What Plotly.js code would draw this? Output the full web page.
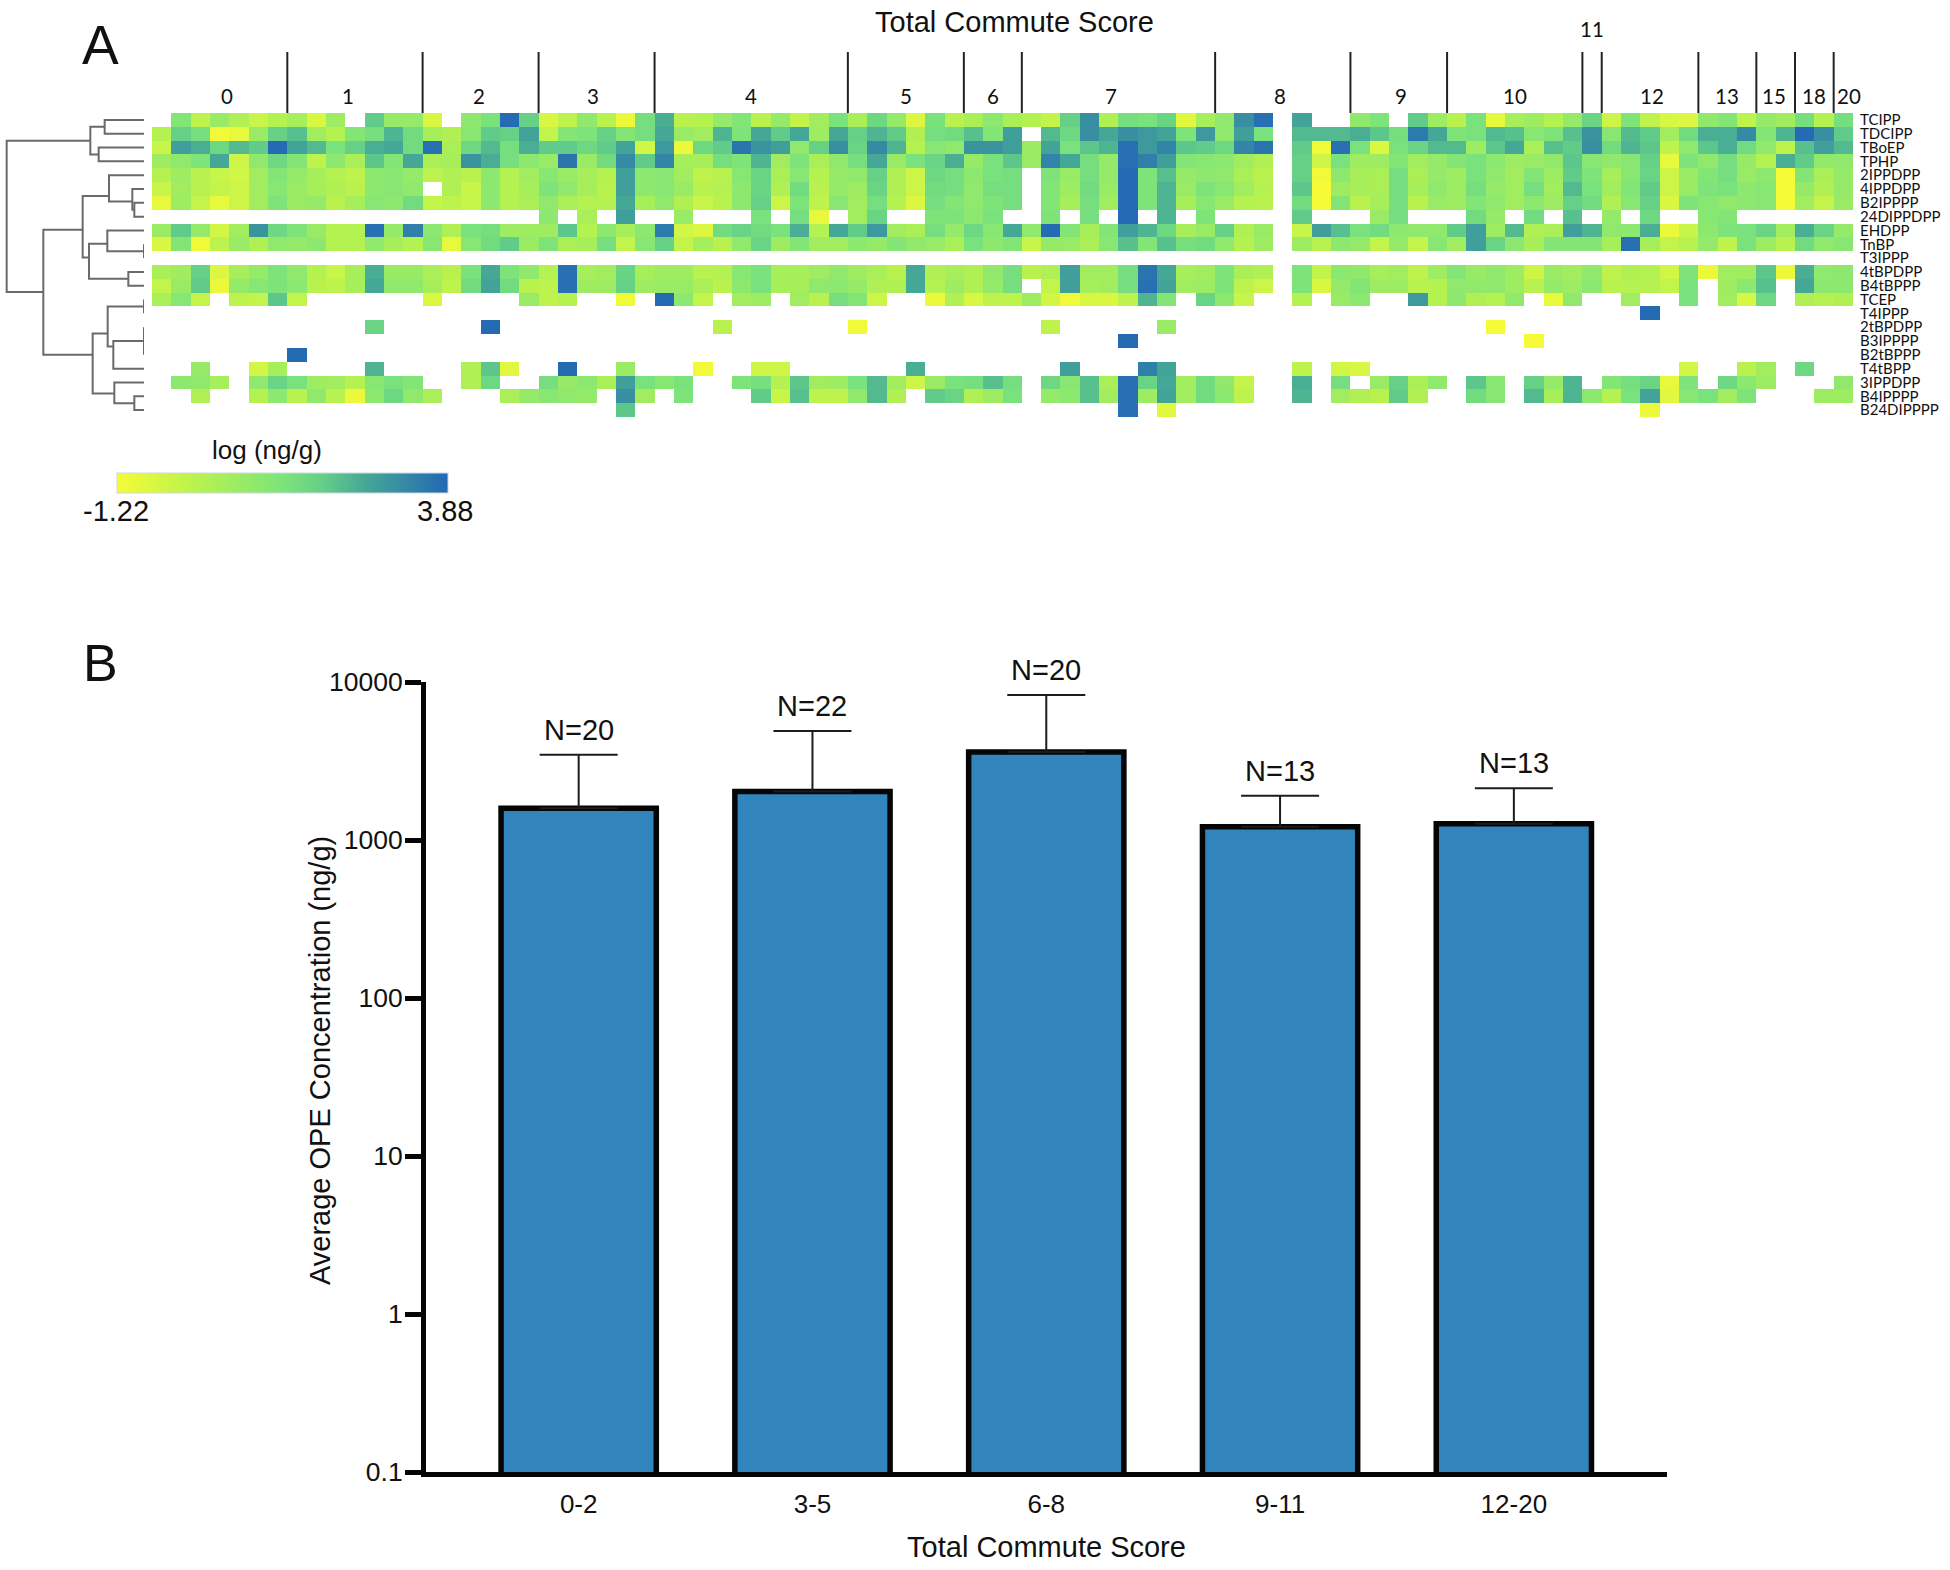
<!DOCTYPE html>
<html><head><meta charset="utf-8"><script src="https://cdn.plot.ly/plotly-3.0.1.min.js"></script>
<style>html,body{margin:0;padding:0;background:#fff}#c{width:1950px;height:1570px}</style></head>
<body><div id="c"></div><script>
const _ = null;
const gap = n => Array(n).fill(null);
// Panel A: log(ng/g) per sample, one array per compound (88 samples)
const TCIPP=[_,1.2,-.1,.7,.2,-.3,.1,.4,-.6,.6,_,2,.8,.8,-.6,_,1,1.4, 3.8,1.9,-.6,-.1,.9,0,-1,1.5,2.5,0,.1,.8,1.2,0,.8,-.2,.5,1.4, .3,1.7,.8,-.7,1.4,0,.3,1,.3,.1,-.2,1.9,3.1,.2,1.5,1.4,1.8,-.8, .4,.9,3.1,3.7,_,2.7,_,_,.9,1.3,_,2,.6,0,1.4,-.9,.4,.6, .1,.8,1.8,-.4,1.3,-.1,-.6,-.7,.9,1.2,-.1,.8,.5,1.5,.1,1.5];
const TDCIPP=[.1,1.9,1.5,-1.1,-.9,.7,1.9,2.2,.5,.1,1.2,1.5,2.4,1.6,.4,.2,1.1,2, 1.9,2.7,-.2,1.2,1.3,1.9,1.2,1.5,2.6,.7,.5,2.4,1.3,2.6,2,2.6,.6,2.6, 1.9,2.4,2,.2,1.5,1.6,2.2,1.2,2.8,_,2.3,1.7,3.1,2.6,3.1,2.9,2.7,1.3, 2.9,.9,2.8,1.4,_,2.3,2.3,2.3,2.5,2.1,1.5,3.5,2.6,1.3,1.4,2.3,2.2,1.1, 1.3,2.2,3,1.1,2.3,2,.5,1.6,2.5,2.5,3.2,1.2,2.4,3.8,3.1,2];
const TBoEP=[-.3,2.8,2.5,1.7,2.3,2,3.8,2.7,2.3,1.4,1.9,2.5,2.6,1.6,3.7,.3,1.7,2.3, 1.5,2.5,2,2,1.7,2,2.7,-.5,2.9,-1,1.7,2,3.6,3,2.8,.9,1.9,3.1, 1.8,3.2,2.4,.1,1.1,.9,3,3,2.8,.7,2.7,1.4,2.1,2.4,3.7,2.9,3.3,2.1, 2,1.7,3.3,3.6,_,2,-1.1,3.7,1.4,-.7,1.4,1.8,2.3,2.3,.6,2.1,2.6,.3, 2.2,2,3.1,1.6,2.4,2.1,-.1,.9,2.1,2.5,1.6,.9,-.1,2.2,2.8,2.3];
const TPHP=[.6,.9,1.3,2.6,-.4,.9,1.7,1.2,-.1,1,.3,2.1,1.2,2.6,.3,.4,3,2.5, 1.5,1,.7,3.6,.7,1.6,3.2,2,3.3,.4,.4,1.5,1.3,2.4,.5,1.3,.3,.9, 1.5,2.6,.7,1.4,1.8,2.5,.8,1.4,2.1,.7,3.3,2.6,1.5,.8,3.7,3.4,2.8,1.2, 1.1,1,.5,.2,_,1.9,-.4,1.4,.6,.6,1.2,.5,.8,1.2,1.4,1,.6,.7, .9,2.1,1.1,.9,1.1,1.9,-.9,1.3,.9,1.5,.8,.1,2.5,2,.9,.9];
const IPPDPP2=[.1,.6,0,-.3,-.5,.5,1.2,.8,.4,.1,-.1,1,1.1,.8,-.1,.2,0,1, .1,.5,1.1,.7,.4,.1,2.8,1,1.1,.5,-.1,0,1.1,1.8,.3,1.1,.1,.8, .9,1.9,.2,-.4,1.7,1.5,1,1.4,1.5,_,1.3,.7,1.5,.8,3.8,1.3,2.2,.8, 1,.9,.3,0,_,1.9,-1.1,1,.4,.3,1.5,.3,.8,.6,1.4,.9,.5,1.2, .6,2,1.3,.4,1.1,1.8,-.4,.7,1.2,1.5,.7,1,-1.2,1.2,.3,.8];
const IPPDPP4=[-.3,.5,0,-.2,-.4,.5,1.1,.7,.4,.2,0,1,1.1,.9,_,.2,-.3,1, .1,.4,1.3,.9,.4,0,2.8,1,1.1,.7,0,.1,1,1.8,.2,1.6,0,.8, .6,1.8,.2,-.4,1.6,1.5,.9,1.5,1.5,_,1.2,.6,1.6,.7,3.8,1.3,2.4,.7, 1.3,1.1,.5,.1,_,2.1,-1.2,.6,.4,.3,1.5,.4,.9,.6,1.5,.8,.5,1.5, .5,2.3,1.4,.5,1.2,2,-.4,.7,1.3,1.4,1,1.1,-1.2,.8,.2,.8];
const B2IPPPP=[-.9,.6,-.2,-.9,-.4,.5,1.3,.7,.8,0,.4,1.1,1,1.6,-.2,-.1,-.3,1, .1,.3,.9,.3,.1,.1,2.6,.4,.9,.2,-.3,0,1,1.9,-.4,1.3,-.1,1.1, .5,1.5,.1,-.7,1.5,1.2,.9,1.3,1.5,_,1.2,.4,1.5,.5,3.8,1.3,2.4,.4, 1.1,.7,.1,0,_,1.6,-1.2,1.2,0,.4,1.5,0,.7,.6,1.2,.9,.5,1, .6,1.9,1.6,.2,1.1,1.9,-.6,1.3,1.1,.9,1,1.1,-1.2,.5,-.2,.7];
const DIPPDPP24=[...gap(18), _,_,1,_,.3,_,2.8,_,_,.7,_,_,_,1.4,_,1.5,-.9,_, .5,1.8,_,_,1.3,1.3,1,1.4,_,_,1.3,_,1.5,_,3.8,_,2.4,_, 1.3,_,_,_,_,2,_,_,_,.7,1.5,_,_,_,1.6,.8,_,1.6, _,2.2,_,.8,_,1.7,_,_,1.1,1.2,_,_,_,_,_,_];
const EHDPP=[.7,2,.8,-.5,.5,3,1.7,1.3,.7,.1,.1,3.7,.8,3.4,1,.2,1.4,1.5, .6,.6,.6,2.1,.1,1,.4,1,3.5,-.5,-.7,1.6,1.8,1.6,1.4,2.5,.1,2.6, 2,2.9,.5,.3,1.5,.8,1.7,1.1,2.6,.9,3.8,1.2,.4,1.2,2.8,2.4,1.7,.4, .7,1.9,.2,.7,_,-.3,2.8,2.2,1.4,1.6,1,.9,.9,2,2.8,.6,2.3,.2, .3,2.8,2.4,.9,1,2.5,-1,-.3,1,1.3,1.4,1.8,.5,2.5,1.8,.8];
const TnBP=[-.6,1.2,-1.1,-.1,.7,.2,.9,.8,1,.1,.1,.9,.4,.1,1.1,-.9,1.1,1.6, 2,.7,1.3,.3,.4,1.5,-.2,1.1,1.9,-.2,.4,0,.9,1.8,.6,1.2,.5,.5, 1,.8,1.2,.9,.7,.3,1.4,1,1.2,-.3,.8,.7,.3,1.1,2.2,1.2,2.2,1.5, 1.6,.9,.1,.6,_,.6,0,1,.8,-.2,.8,-.2,1.1,.5,2.8,1.8,1,.4, 1.2,1.2,1.2,.4,3.7,.4,-.2,0,.8,-.1,1.4,.6,0,1.6,.9,1.1];
const T3IPPP=gap(88);
const tBPDPP4=[.3,.5,1.9,-.7,.4,.8,1.3,.9,.1,-.3,.4,2.5,.7,.7,.3,0,1.4,2.6, 1.3,.9,.1,3.7,.4,.5,1.8,.4,.6,.6,0,.1,1.1,1.4,.4,.4,.6,.9, .6,.3,0,2.6,.2,.4,.2,.9,1.5,0,.2,2.8,.5,.5,1.5,3.6,2.6,.4, .5,1.3,.3,.2,_,1.3,-.2,1,.9,.4,.5,-.1,.6,1.2,.7,.9,.6,-.4, .7,.5,.9,-.1,.2,.1,-.5,1.3,-1,.5,.5,2.1,-1,2.5,.9,1];
const B4tBPPP=[-.2,.7,2,-1,.8,1.1,1.3,1,0,-.1,.4,2.6,.9,.9,.4,-.1,1.6,2.7, 1.6,0,-.1,3.7,.6,.6,1.9,.6,.7,.7,.3,0,1,1.4,.4,.4,.9,1, .8,.2,.2,2.6,.1,.6,.2,.8,1.5,_,-.2,2.8,.4,.5,1.5,3.7,2.7,.5, .6,1.3,-.1,-.4,_,1.3,-.6,.8,1.2,.6,.6,0,.1,.9,.9,.9,.6,0, .8,.6,1,0,.1,.1,-.2,1.4,_,.6,1,2.2,_,2.6,1,1];
const TCEP=[.3,1.1,-.2,_,-.1,-.2,2.1,-.2,_,_,_,_,_,_,-.7,_,_,_, _,.7,-.1,.1,_,_,-1.1,_,3.8,1,-.2,_,.5,.6,_,.5,0,1.5, 1.2,-.4,_,_,-1,.2,-.6,-.1,-.1,.6,-.5,-1.1,-.6,-.6,-.1,2.4,1.2,_, 1.8,1,-.3,_,_,.1,_,.7,1,_,_,2.9,.1,1,.2,.1,.9,_, -.9,.9,_,_,.5,_,_,1.4,_,.5,-.6,1.7,_,.2,.1,.2];
const T4IPPP=[...gap(77),3.8,...gap(10)];
const tBPDPP2=[...gap(11),1.8,...gap(5),3.8,...gap(11),0,...gap(6),-1.1,...gap(9),-.1,...gap(5),.7,...gap(16),-1.2,...gap(18)];
const B3IPPPP=[...gap(50),3.8,...gap(20),-1.2,...gap(16)];
const B2tBPPP=[...gap(7),3.8,...gap(80)];
const T4tBPP=[_,_,.8,_,_,-.5,.4,_,_,_,_,2.4,_,_,_,_,.2,2.1, -.8,_,_,3.8,_,_,.7,_,_,_,-1.1,_,_,-.4,-.4,_,_,_, _,_,_,2.5,_,_,_,_,_,_,_,2.8,_,_,_,3.4,2.7,_, _,_,_,_,_,-.1,_,-.5,-.6,_,_,_,_,_,_,_,_,_, _,_,_,_,_,_,_,-.5,_,_,0,.5,_,1.7,_,_];
const IPPDPP3=[_,1,.9,.4,_,.9,1.8,1.4,.6,.5,.1,1.1,1.4,1.2,_,_,.2,1.7, _,_,1.5,.8,1,.3,2.8,1.4,1.1,1.4,_,_,1.3,1.5,.1,2.1,.5,.6, 1.4,2.3,.5,-.4,.7,1.4,1.5,2.2,1.5,_,1.7,1.1,2.2,.3,3.7,1.8,2.6,.5, 1.6,.9,-.2,_,_,2.5,_,1.5,_,.7,1.9,.3,.9,_,2.1,1.1,_,1.9, .8,2.4,_,1.2,1.5,1.8,-.9,1.3,_,1.7,1,.6,_,_,_,.9];
const B4IPPPP=[_,_,.2,_,_,.1,1,0,.9,0,-1,1,1.7,.9,.3,_,_,_, .3,.8,1.1,.9,.8,_,3.1,.5,_,1.3,_,_,_,2,-.3,2.2,-.1,-.1, .9,2.3,.2,_,2,1.8,.2,.6,1.4,_,.8,1,2.2,.5,3.7,.6,2.7,.5, 1.6,1,-.1,_,_,2.4,_,.5,.2,0,2,.2,_,_,1.6,1.1,_,2.3, .4,2.4,1,.1,1.4,2.7,-.8,1.1,1.4,.5,1.3,_,_,_,.6,.6];
const B24DIPPPP=[...gap(24),2.1,...gap(25),3.7,_,-.8,...gap(24),-1,...gap(10)];
const compounds=['TCIPP','TDCIPP','TBoEP','TPHP','2IPPDPP','4IPPDPP','B2IPPPP','24DIPPDPP','EHDPP','TnBP','T3IPPP','4tBPDPP','B4tBPPP','TCEP','T4IPPP','2tBPDPP','B3IPPPP','B2tBPPP','T4tBPP','3IPPDPP','B4IPPPP','B24DIPPPP'];
const heatRows=[TCIPP,TDCIPP,TBoEP,TPHP,IPPDPP2,IPPDPP4,B2IPPPP,DIPPDPP24,EHDPP,TnBP,T3IPPP,tBPDPP4,B4tBPPP,TCEP,T4IPPP,tBPDPP2,B3IPPPP,B2tBPPP,T4tBPP,IPPDPP3,B4IPPPP,B24DIPPPP];
heatRows.forEach((r,i)=>{if(r.length!==88)throw new Error('row '+i+' has '+r.length)});
// Commute score groups along the top of panel A
const scoreLabels=['0','1','2','3','4','5','6','7','8','9','10','11','12','13','15','18','20'];
const scoreSizes=[7,7,6,6,10,6,3,10,7,5,7,1,5,3,2,2,1];
const scoreLabelCol=[3.4,9.65,16.4,22.3,30.5,38.5,43,49.1,57.85,64.1,70,74,77.1,81,83.4,85.5,87.3];
// Dendrogram merges: height, first child row and height, second child row and height
const mergeH=[314,296,271,403,397,327,432,322,385,267,248,432,432,432,340,323,403,343,278,130,20];
const mergeY1=[0,2,.5,6,5,4,9,8,11,8.96,5.5,13,15,16,16,13.5,20,19,15.45,7.95,1.5];
const mergeC1=[432,432,314,432,432,432,432,432,432,322,327,432,432,432,432,432,432,432,323,248,271];
const mergeY2=[1,3,2.5,7,6.5,5.9,10,9.5,12,11.5,9.95,14,17,16,18,16.4,21,20.5,19.8,17,12.46];
const mergeC2=[432,432,296,432,403,397,432,432,432,385,267,432,432,432,432,340,432,403,343,278,130];
// Panel B
const groupNames=['0-2','3-5','6-8','9-11','12-20'];
const meanOPE=[1590,2030,3600,1215,1265];
const upperOPE=[3460,4900,8280,1905,2124];
const groupN=['N=20','N=22','N=20','N=13','N=13'];
const yTicks=[0.1,1,10,100,1000,10000];
const yTickText=['0.1','1','10','100','1000','10000'];

const W=1950,H=1570;
const fx=p=>p/W, fy=p=>1-p/H;
const arial='"Liberation Sans",Arial,sans-serif', lato='Lato,sans-serif';
const dx=[],dy=[];
mergeH.forEach((h,i)=>{dx.push(mergeC1[i],h,h,mergeC2[i],null);dy.push(mergeY1[i],mergeY1[i],mergeY2[i],mergeY2[i],null);});
const traces=[
 {type:'heatmap',z:heatRows,x:[...Array(88).keys()],y:compounds.map((c,i)=>i),xaxis:'x',yaxis:'y',zmin:-1.22,zmax:3.88,hoverongaps:false,
  colorscale:[[0,'#f6fb36'],[.25,'#b6f250'],[.5,'#7de47a'],[.62,'#64cf88'],[.75,'#45a896'],[1,'#2367b5']],
  colorbar:{orientation:'h',lenmode:'pixels',len:331,thickness:20,x:fx(117),xanchor:'left',y:fy(473),yanchor:'top',xpad:0,ypad:0,
   outlinecolor:'#cfd8e4',outlinewidth:1,showticklabels:false,ticks:''}},
 {type:'scatter',mode:'lines',x:dx,y:dy,xaxis:'x3',yaxis:'y',line:{color:'#6a6a6a',width:2},hoverinfo:'skip',showlegend:false,connectgaps:false},
 {type:'bar',x:groupNames.map((g,i)=>i),y:meanOPE,xaxis:'x2',yaxis:'y2',width:.664,marker:{color:'#3185bc',line:{color:'#050505',width:5.5}},
  error_y:{type:'data',symmetric:false,array:upperOPE.map((u,i)=>u-meanOPE[i]),arrayminus:meanOPE.map(()=>0),color:'#1c1c1c',thickness:2,width:39},showlegend:false}
];
let cum=0; const shapes=[];
scoreSizes.slice(0,-1).forEach(s=>{cum+=s;shapes.push({type:'line',xref:'x',yref:'paper',x0:cum-.5,x1:cum-.5,y0:fy(52),y1:fy(113),line:{color:'#222',width:2}});});
const text=(t,x,y,size,extra)=>Object.assign({text:t,xref:'paper',yref:'paper',x:fx(x),y:fy(y),showarrow:false,xanchor:'center',yanchor:'middle',font:{family:arial,size,color:'#111'}},extra||{});
const annotations=[
 ...scoreLabels.map((t,i)=>({text:t,xref:'x',yref:'paper',x:scoreLabelCol[i],y:fy(t==='11'?29:96),showarrow:false,xanchor:'center',yanchor:'middle',font:{family:lato,size:20.5,color:'#111'}})),
 ...groupN.map((t,i)=>({text:t,xref:'x2',yref:'y2',x:i,y:Math.log10(upperOPE[i]),yanchor:'bottom',yshift:7,showarrow:false,font:{family:arial,size:29,color:'#111'}})),
 text('A',100,45,55), text('B',100,663,52),
 text('Total Commute Score',1014,22,29),
 text('log (ng/g)',267,450,26),
 text('-1.22',116,511,29), text('3.88',445,511,29),
 text('Average OPE Concentration (ng/g)',320,1061,29,{textangle:-90})
];
const layout={width:W,height:H,margin:{l:0,r:0,t:0,b:0,autoexpand:false},paper_bgcolor:'#fff',plot_bgcolor:'#fff',showlegend:false,
 xaxis:{domain:[fx(152),fx(1853)],range:[-.5,87.5],anchor:'y',showgrid:false,zeroline:false,showticklabels:false,ticks:'',showline:false},
 yaxis:{domain:[fy(417),fy(113)],range:[21.5,-.5],anchor:'x',side:'right',showgrid:false,zeroline:false,tickmode:'array',tickvals:compounds.map((c,i)=>i),ticktext:compounds,ticks:'',ticklen:0,showline:false,ticklabelstandoff:6,tickfont:{family:lato,size:15,color:'#111'}},
 xaxis3:{domain:[0,fx(144)],range:[0,432],anchor:'y',visible:false},
 xaxis2:{domain:[fx(426),fx(1667)],range:[-.653,4.655],anchor:'y2',tickmode:'array',tickvals:groupNames.map((g,i)=>i),ticktext:groupNames,ticks:'',showgrid:false,zeroline:false,showline:true,linecolor:'#050505',linewidth:5,ticklabelstandoff:5,
  tickfont:{family:arial,size:26,color:'#111'},title:{text:'Total Commute Score',font:{family:arial,size:29,color:'#111'},standoff:20}},
 yaxis2:{domain:[fy(1472),fy(682)],type:'log',range:[-1,4],anchor:'x2',tickmode:'array',tickvals:yTicks,ticktext:yTickText,ticks:'outside',ticklen:16,tickwidth:5,tickcolor:'#050505',showgrid:false,zeroline:false,showline:true,linecolor:'#050505',linewidth:5,ticklabelstandoff:-3,
  tickfont:{family:arial,size:26.5,color:'#111'}},
 shapes,annotations};
Plotly.newPlot('c',traces,layout,{displayModeBar:false,staticPlot:true});
</script></body></html>
